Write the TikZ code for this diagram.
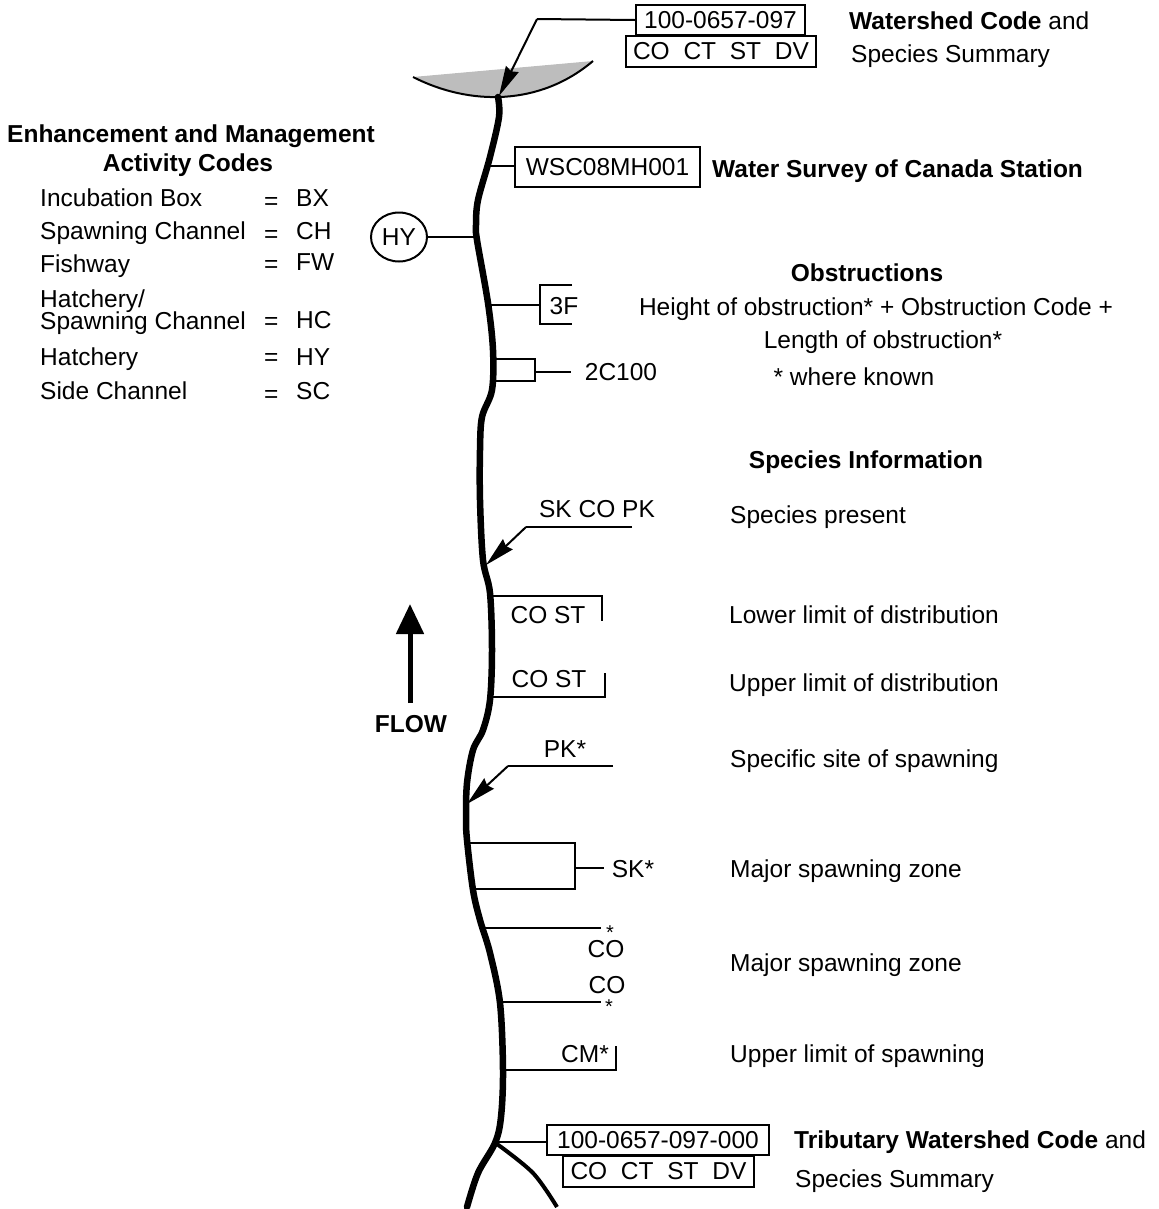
\documentclass[tikz,border=0pt]{standalone}
\usepackage{fontspec}
\setmainfont{Liberation Sans}
\usetikzlibrary{arrows.meta,shapes.geometric}
\tikzset{
  x=1bp,y=-1bp,
  lab/.style={inner sep=0pt,font=\fontsize{24.5bp}{24.5bp}\selectfont},
  llab/.style={lab,anchor=base west},
  clab/.style={lab,anchor=base},
  boxn/.style={draw,line width=2bp,inner sep=0pt,font=\fontsize{24.5bp}{24.5bp}\selectfont},
  thin line/.style={line width=2bp},
  river/.style={line width=6.5bp,line cap=round,line join=round},
  point/.style={thin line,-{Stealth[length=30bp,width=14bp,inset=2.5bp]}},
  star/.style={lab,font=\fontsize{20bp}{20bp}\selectfont}
}
\begin{document}
\begin{tikzpicture}
\useasboundingbox (0,0) rectangle (1159,1209);
% lake
\fill[black!26] (413,77) .. controls (470,106) and (540,106) .. (593,61) -- cycle;
\draw[line width=2bp] (413,77) .. controls (470,106) and (540,106) .. (593,61);
% river
\draw[river] plot[smooth,tension=0.55] coordinates {(498,97) (499,117) (490,157) (478,200) (476,225) (477,240) (488,303) (493,350) (492,390) (482,417) (480,450) (480,500) (483,560) (490,593) (492,650) (490,700) (483,730) (473,750) (467,783) (466,817) (467,840) (473,890) (480,920) (490,953) (500,1003) (503,1070) (501,1117) (495,1143) (478,1173) (467,1207)};
\draw[line width=4bp] plot[smooth,tension=0.55] coordinates {(497,1144) (533,1173) (557,1207)};
% river attachment points
\coordinate (rLake) at (499,96);
\coordinate (rWsc) at (490,166);
\coordinate (rHy) at (477,237);
\coordinate (rThreeF) at (489,305);
\coordinate (rPres) at (486,565);
\coordinate (rLow) at (491,596);
\coordinate (rUp) at (491,697);
\coordinate (rSite) at (467,804);
\coordinate (rSkA) at (469,843);
\coordinate (rSkB) at (474,889);
\coordinate (rCoA) at (485,928);
\coordinate (rCoB) at (500,1002);
\coordinate (rCm) at (503,1070);
\coordinate (rTrib) at (496,1142);
% top boxes
\node[boxn,minimum width=169bp,minimum height=30bp] (wcode) at (720.5,20) {100-0657-097};
\node[boxn,minimum width=190bp,minimum height=31bp] (wspec) at (721,51) {\makebox[176bp]{CO\hfill CT\hfill ST\hfill DV}};
\coordinate (wbend) at (537,19);
\draw[thin line] (wcode.west) -- (wbend);
\draw[point] (wbend) -- (rLake);
\node[llab] (t1) at (849,29) {\textbf{Watershed Code} and};
\node[llab] (t2) at (851,62) {Species Summary};
% WSC
\node[boxn,minimum width=185bp,minimum height=40bp] (wsc) at (607.5,167) {WSC08MH001};
\draw[thin line] (rWsc) -- (wsc.west |- rWsc);
\node[llab] (t3) at (712,177) {\textbf{Water Survey of Canada Station}};
% HY
\node[boxn,ellipse,minimum width=56bp,minimum height=49bp] (hy) at (399,237) {HY};
\draw[thin line] (hy.east) -- (rHy);
% 3F
\node[clab] (f3) at (564,314) {3F};
\coordinate (f3a) at (572,285);
\coordinate (f3b) at (540,285);
\coordinate (f3c) at (540,324);
\coordinate (f3d) at (572,324);
\coordinate (f3m) at (540,305);
\draw[thin line] (f3a) -- (f3b) -- (f3c) -- (f3d);
\draw[thin line] (rThreeF) -- (f3m);
% 2C100
\coordinate (c2a) at (492,359);
\coordinate (c2b) at (535,359);
\coordinate (c2c) at (535,381);
\coordinate (c2d) at (494,381);
\draw[thin line] (c2a) -- (c2b) -- (c2c) -- (c2d);
\node[clab] (c2) at (621,380) {2C100};
\coordinate (c2m) at (535,372);
\coordinate (c2end) at (571,372);
\draw[thin line] (c2m) -- (c2end);
% Obstructions text
\node[clab] (o1) at (867,281) {\textbf{Obstructions}};
\node[clab] (o2) at (876,315) {Height of obstruction* + Obstruction Code +};
\node[clab] (o3) at (883,348) {Length of obstruction*};
\node[clab] (o4) at (854,385) {* where known};
\node[clab] (s0) at (866,468) {\textbf{Species Information}};
% species present
\node[clab] (skcopk) at (597,517) {SK CO PK};
\coordinate (spA) at (632,527);
\coordinate (spB) at (526,527);
\draw[thin line] (spA) -- (spB);
\draw[point] (spB) -- (rPres);
\node[llab] (s1) at (730,523) {Species present};
% lower limit
\node[clab] (cs1) at (548,623) {CO ST};
\coordinate (llA) at (602,596);
\coordinate (llB) at (602,621);
\draw[thin line] (rLow) -- (llA) -- (llB);
\node[llab] (s2) at (729,623) {Lower limit of distribution};
% upper limit
\node[clab] (cs2) at (549,687) {CO ST};
\coordinate (ulA) at (605,697);
\coordinate (ulB) at (605,673);
\draw[thin line] (rUp) -- (ulA) -- (ulB);
\node[llab] (s3) at (729,691) {Upper limit of distribution};
% FLOW
\coordinate (flA) at (410,703);
\coordinate (flB) at (410,604);
\draw[line width=5bp,-{Triangle[length=30bp,width=27bp]}] (flA) -- (flB);
\node[clab] (flow) at (411,732) {\textbf{FLOW}};
% PK
\node[clab] (pk) at (565,757) {PK*};
\coordinate (pkA) at (613,766);
\coordinate (pkB) at (508,766);
\draw[thin line] (pkA) -- (pkB);
\draw[point] (pkB) -- (rSite);
\node[llab] (s4) at (730,767) {Specific site of spawning};
% SK
\coordinate (skA) at (575,843);
\coordinate (skB) at (575,889);
\coordinate (skM) at (575,868);
\coordinate (skE) at (604,868);
\draw[thin line] (rSkA) -- (skA) -- (skB) -- (rSkB);
\draw[thin line] (skM) -- (skE);
\node[clab] (sk) at (633,877) {SK*};
\node[llab] (s5) at (730,877) {Major spawning zone};
% CO zone
\coordinate (coA) at (601,928);
\draw[thin line] (rCoA) -- (coA);
\node[star] (st1) at (610,933) {*};
\node[clab] (co1) at (606,957) {CO};
\node[clab] (co2) at (607,993) {CO};
\coordinate (coB) at (601,1002);
\draw[thin line] (rCoB) -- (coB);
\node[star] (st2) at (609,1007) {*};
\node[llab] (s6) at (730,971) {Major spawning zone};
% CM
\node[clab] (cm) at (585,1062) {CM*};
\coordinate (cmA) at (616,1070);
\coordinate (cmB) at (616,1046);
\draw[thin line] (rCm) -- (cmA) -- (cmB);
\node[llab] (s7) at (730,1062) {Upper limit of spawning};
% tributary
\node[boxn,minimum width=222bp,minimum height=30bp] (tcode) at (658,1140) {100-0657-097-000};
\node[boxn,minimum width=191bp,minimum height=31bp] (tspec) at (658.5,1171) {\makebox[176bp]{CO\hfill CT\hfill ST\hfill DV}};
\draw[thin line] (rTrib) -- (tcode.west |- rTrib);
\node[llab] (t5) at (794,1148) {\textbf{Tributary Watershed Code} and};
\node[llab] (t6) at (795,1187) {Species Summary};
% left block
\node[clab] (h1) at (191,142) {\textbf{Enhancement and Management}};
\node[clab] (h2) at (188,171) {\textbf{Activity Codes}};
\node[llab] (a1) at (40,206) {Incubation Box};
\node[llab] (a2) at (40,239) {Spawning Channel};
\node[llab] (a3) at (40,272) {Fishway};
\node[llab] (a4) at (40,307) {Hatchery/};
\node[llab] (a5) at (40,329) {Spawning Channel};
\node[llab] (a6) at (40,365) {Hatchery};
\node[llab] (a7) at (40,399) {Side Channel};
\node[llab] (e1) at (264,209) {=};
\node[llab] (e2) at (264,242) {=};
\node[llab] (e3) at (264,272) {=};
\node[llab] (e5) at (264,329) {=};
\node[llab] (e6) at (264,365) {=};
\node[llab] (e7) at (264,402) {=};
\node[llab] (b1) at (296,206) {BX};
\node[llab] (b2) at (296,239) {CH};
\node[llab] (b3) at (296,270) {FW};
\node[llab] (b5) at (296,328) {HC};
\node[llab] (b6) at (296,365) {HY};
\node[llab] (b7) at (296,399) {SC};
\end{tikzpicture}
\end{document}
